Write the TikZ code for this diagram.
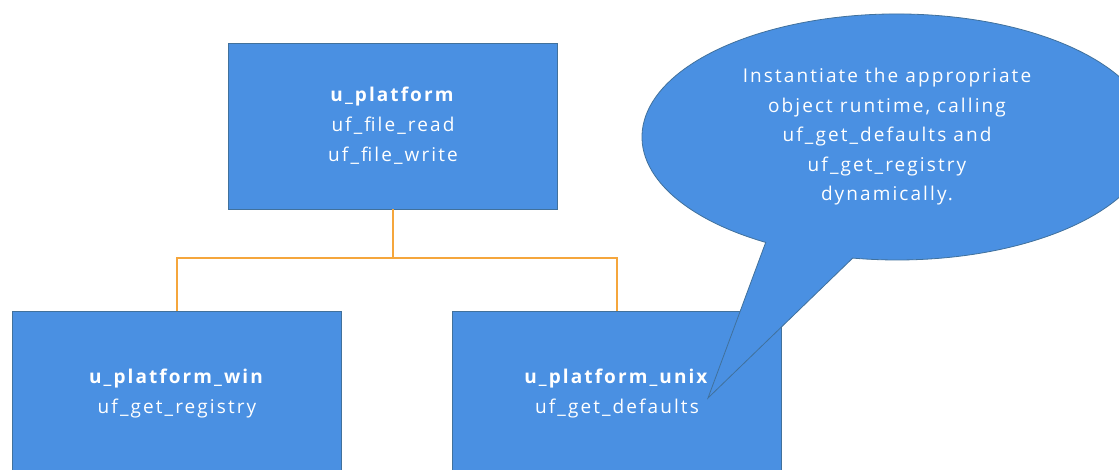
\documentclass[tikz,border=0pt]{standalone}
\usepackage{fontspec}
\setmainfont{Open Sans}[LetterSpace=11]
\definecolor{boxblue}{RGB}{74,144,226}
\definecolor{boxedge}{RGB}{65,113,156}
\definecolor{linkorange}{RGB}{245,166,60}
\begin{document}
\begin{tikzpicture}[x=1pt,y=-1pt,
  box/.style={draw=boxedge, fill=boxblue, line width=0.8pt, minimum width=329pt, minimum height=166pt, inner sep=0pt, align=center, text=white, font=\fontsize{19}{30}\selectfont},
  link/.style={draw=linkorange, line width=2pt},
  bubble/.style={draw=boxedge, fill=boxblue, line width=0.8pt, line join=miter},
  notetext/.style={text=white, align=center, inner sep=0pt, font=\fontsize{19}{29.5}\selectfont}]
\useasboundingbox (0,0) rectangle (1119,470);
\clip (0,0) rectangle (1119,470);
\node[box] (top) at (393,126) {\textbf{u\_platform}\\uf\_file\_read\\uf\_file\_write};
\node[box] (win) at (177,394) {\textbf{u\_platform\_win}\\uf\_get\_registry};
\node[box] (unix) at (617,394) {\textbf{u\_platform\_unix}\\uf\_get\_defaults};
\coordinate (mid) at (393,258);
\draw[link] (top.south) -- (mid) -| (win.north);
\draw[link] (mid) -| (unix.north);
\coordinate (tip) at (708,398);
\coordinate (tailA) at (765.7,242.4);
\coordinate (tailB) at (852.7,258.1);
\draw[bubble] (tailA) -- (tip) -- (tailB) arc[start angle=100, end angle=-239, x radius=255, y radius=123] -- cycle;
\node[notetext] (note) at (887,137) {Instantiate the appropriate\\object runtime, calling\\uf\_get\_defaults and\\uf\_get\_registry\\dynamically.};
\end{tikzpicture}
\end{document}
